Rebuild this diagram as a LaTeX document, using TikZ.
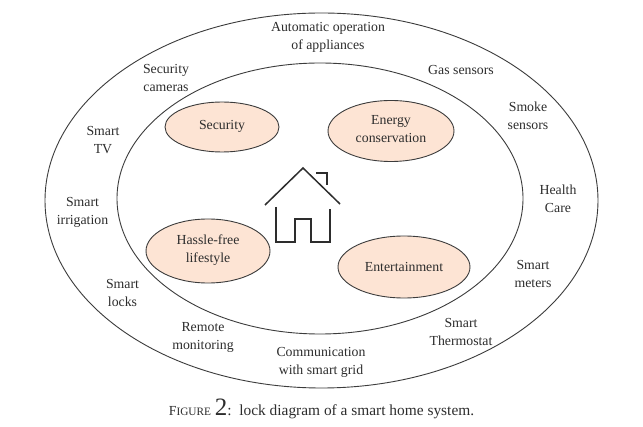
\documentclass[tikz,border=0pt]{standalone}
\usepackage{fontspec}
\setmainfont{Liberation Serif}
\definecolor{peach}{RGB}{253,228,212}
\definecolor{ink}{RGB}{60,60,60}
\definecolor{dark}{RGB}{45,45,45}
\tikzset{
  ring/.style={draw=ink,line width=0.9pt},
  blob/.style={draw=ink,line width=0.9pt,fill=peach},
  lbl/.style={align=center,inner sep=0pt,font=\fontsize{13.8}{18}\selectfont,text=dark},
  housel/.style={draw=dark,line width=1.5pt,line join=miter}
}
\begin{document}
\begin{tikzpicture}[x=1pt,y=-1pt]
\useasboundingbox (0,0) rectangle (643,427);
\fill[white] (0,0) rectangle (643,427);
\draw[ring] (321.5,200.5) ellipse [x radius=276.5,y radius=187.5];
\draw[ring] (320,198.5) ellipse [x radius=203,y radius=135.5];
\draw[blob] (222,127) ellipse [x radius=57,y radius=25];
\draw[blob] (391,131) ellipse [x radius=63,y radius=30.5];
\draw[blob] (208,251) ellipse [x radius=62,y radius=32];
\draw[blob] (404,267) ellipse [x radius=66,y radius=31];
\node[lbl] (sec) at (222,126) {Security};
\node[lbl] (ene) at (391,129) {Energy\\conservation};
\node[lbl] (has) at (208,250) {Hassle-free\\lifestyle};
\node[lbl] (ent) at (404,267) {Entertainment};
\node[lbl] (auto) at (328,37) {Automatic operation\\of appliances};
\node[lbl] (cam) at (166,78) {Security\\cameras};
\node[lbl] (gas) at (461,70) {Gas sensors};
\node[lbl] (smo) at (528,116) {Smoke\\sensors};
\node[lbl] (tv) at (103,140) {Smart\\TV};
\node[lbl] (irr) at (82.5,212) {Smart\\irrigation};
\node[lbl] (hea) at (558,199) {Health\\Care};
\node[lbl] (met) at (533,274) {Smart\\meters};
\node[lbl] (loc) at (122.5,293) {Smart\\locks};
\node[lbl] (rem) at (203,337) {Remote\\monitoring};
\node[lbl] (the) at (461,332) {Smart\\Thermostat};
\node[lbl] (com) at (321,362) {Communication\\with smart grid};
\node[lbl,font=\fontsize{15.4}{14}\selectfont,anchor=base] (cap) at (321.5,416) {{\fontsize{13.8}{14}\selectfont F}{\fontsize{11.3}{14}\selectfont IGURE} {\fontsize{25}{14}\selectfont 2}:\ \ lock diagram of a smart home system.};
\draw[housel] (265,205) -- (303,168) -- (340,204);
\draw[housel] (316,173) -- (327,173) -- (327,185);
\draw[housel] (276,207) -- (276,242) -- (295,242) -- (295,219) -- (311,219) -- (311,242) -- (330,242) -- (330,209);
\end{tikzpicture}
\end{document}
